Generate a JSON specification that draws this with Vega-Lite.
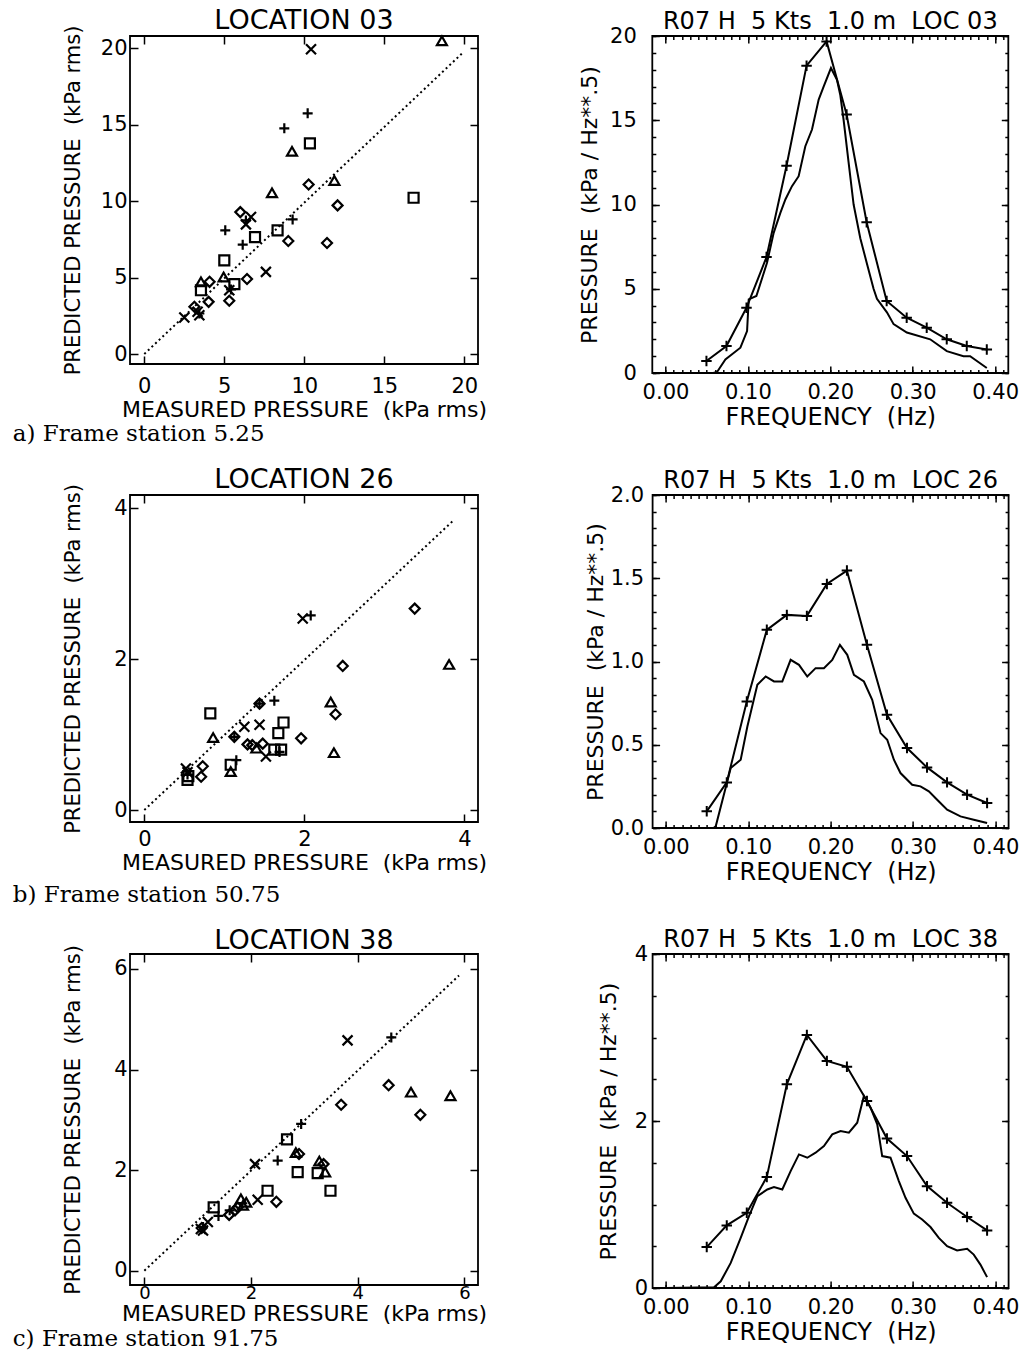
{
"$schema": "https://vega.github.io/schema/vega-lite/v6.json",
"padding": {"left": 12, "top": 6, "right": 0, "bottom": 0},
"background": "white",
"config": {
  "font": "DejaVu Sans",
  "view": {"stroke": "black", "strokeWidth": 1.8},
  "axis": {"domain": false, "grid": false, "tickColor": "black", "tickWidth": 1.5, "labelColor": "black", "titleColor": "black", "labelFont": "DejaVu Sans", "titleFont": "DejaVu Sans", "labelFontSize": 21, "titleFontSize": 22, "titleFontWeight": "normal", "labelOverlap": false},
  "title": {"font": "DejaVu Sans", "fontWeight": "normal", "color": "black"}
},
"datasets": {
  "sc1": [
    {"m":10.42,"p":19.93,"s":"x"},{"m":6.67,"p":8.96,"s":"x"},{"m":6.35,"p":8.48,"s":"x"},{"m":7.6,"p":5.37,"s":"x"},{"m":2.5,"p":2.39,"s":"x"},{"m":3.33,"p":2.76,"s":"x"},{"m":3.44,"p":2.54,"s":"x"},{"m":5.31,"p":4.17,"s":"x"},
    {"m":10.21,"p":15.74,"s":"plus"},{"m":8.75,"p":14.76,"s":"plus"},{"m":5.06,"p":8.09,"s":"plus"},{"m":6.15,"p":7.15,"s":"plus"},{"m":9.27,"p":8.8,"s":"plus"},{"m":3.44,"p":2.65,"s":"plus"},{"m":5.42,"p":4.22,"s":"plus"},{"m":6.35,"p":8.74,"s":"plus"},
    {"m":10.35,"p":13.78,"s":"square"},{"m":16.83,"p":10.22,"s":"square"},{"m":8.33,"p":8.09,"s":"square"},{"m":6.92,"p":7.65,"s":"square"},{"m":5.0,"p":6.13,"s":"square"},{"m":5.63,"p":4.57,"s":"square"},{"m":3.54,"p":4.17,"s":"square"},
    {"m":18.6,"p":20.48,"s":"triangle"},{"m":9.23,"p":13.26,"s":"triangle"},{"m":7.98,"p":10.54,"s":"triangle"},{"m":11.88,"p":11.35,"s":"triangle"},{"m":4.96,"p":5.04,"s":"triangle"},{"m":3.54,"p":4.72,"s":"triangle"},
    {"m":10.27,"p":11.09,"s":"diamond"},{"m":12.08,"p":9.72,"s":"diamond"},{"m":9.0,"p":7.39,"s":"diamond"},{"m":11.42,"p":7.26,"s":"diamond"},{"m":6.0,"p":9.28,"s":"diamond"},{"m":6.42,"p":4.91,"s":"diamond"},{"m":4.08,"p":4.72,"s":"diamond"},{"m":4.02,"p":3.41,"s":"diamond"},{"m":5.31,"p":3.48,"s":"diamond"},{"m":3.13,"p":3.09,"s":"diamond"}
  ],
  "sc2": [
    {"m":1.98,"p":2.54,"s":"x"},{"m":1.25,"p":1.105,"s":"x"},{"m":1.44,"p":1.13,"s":"x"},{"m":1.52,"p":0.71,"s":"x"},{"m":0.52,"p":0.55,"s":"x"},{"m":0.54,"p":0.5,"s":"x"},
    {"m":2.08,"p":2.58,"s":"plus"},{"m":1.625,"p":1.45,"s":"plus"},{"m":1.15,"p":0.66,"s":"plus"},{"m":1.44,"p":1.41,"s":"plus"},{"m":1.125,"p":0.97,"s":"plus"},{"m":1.69,"p":0.77,"s":"plus"},{"m":0.54,"p":0.47,"s":"plus"},
    {"m":0.825,"p":1.28,"s":"square"},{"m":1.74,"p":1.16,"s":"square"},{"m":1.675,"p":1.02,"s":"square"},{"m":1.625,"p":0.8,"s":"square"},{"m":1.71,"p":0.8,"s":"square"},{"m":1.08,"p":0.6,"s":"square"},{"m":0.54,"p":0.4,"s":"square"},{"m":0.55,"p":0.45,"s":"square"},
    {"m":3.81,"p":1.93,"s":"triangle"},{"m":2.33,"p":1.43,"s":"triangle"},{"m":2.37,"p":0.76,"s":"triangle"},{"m":0.86,"p":0.96,"s":"triangle"},{"m":1.4,"p":0.82,"s":"triangle"},{"m":1.08,"p":0.51,"s":"triangle"},
    {"m":3.38,"p":2.67,"s":"diamond"},{"m":2.48,"p":1.91,"s":"diamond"},{"m":2.39,"p":1.27,"s":"diamond"},{"m":1.96,"p":0.95,"s":"diamond"},{"m":1.48,"p":0.88,"s":"diamond"},{"m":1.29,"p":0.87,"s":"diamond"},{"m":0.73,"p":0.58,"s":"diamond"},{"m":0.71,"p":0.44,"s":"diamond"},{"m":1.44,"p":1.41,"s":"diamond"},{"m":1.125,"p":0.97,"s":"diamond"},{"m":1.35,"p":0.86,"s":"diamond"}
  ],
  "sc3": [
    {"m":3.81,"p":4.58,"s":"x"},{"m":2.075,"p":2.12,"s":"x"},{"m":2.125,"p":1.41,"s":"x"},{"m":1.19,"p":0.97,"s":"x"},{"m":1.06,"p":0.83,"s":"x"},{"m":1.1,"p":0.8,"s":"x"},
    {"m":4.63,"p":4.64,"s":"plus"},{"m":2.94,"p":2.92,"s":"plus"},{"m":2.5,"p":2.19,"s":"plus"},{"m":1.39,"p":1.09,"s":"plus"},{"m":1.6,"p":1.2,"s":"plus"},{"m":1.1,"p":0.87,"s":"plus"},
    {"m":2.675,"p":2.61,"s":"square"},{"m":2.875,"p":1.96,"s":"square"},{"m":3.25,"p":1.94,"s":"square"},{"m":3.49,"p":1.59,"s":"square"},{"m":2.31,"p":1.59,"s":"square"},{"m":1.3,"p":1.26,"s":"square"},
    {"m":5.0,"p":3.55,"s":"triangle"},{"m":5.74,"p":3.48,"s":"triangle"},{"m":3.28,"p":2.18,"s":"triangle"},{"m":3.39,"p":1.96,"s":"triangle"},{"m":2.84,"p":2.35,"s":"triangle"},{"m":1.91,"p":1.36,"s":"triangle"},{"m":1.81,"p":1.43,"s":"triangle"},{"m":1.85,"p":1.3,"s":"triangle"},
    {"m":4.58,"p":3.69,"s":"diamond"},{"m":5.175,"p":3.1,"s":"diamond"},{"m":3.69,"p":3.3,"s":"diamond"},{"m":2.9,"p":2.32,"s":"diamond"},{"m":3.36,"p":2.12,"s":"diamond"},{"m":2.475,"p":1.37,"s":"diamond"},{"m":1.59,"p":1.11,"s":"diamond"},{"m":1.75,"p":1.26,"s":"diamond"},{"m":1.075,"p":0.85,"s":"diamond"},{"m":1.7,"p":1.2,"s":"diamond"}
  ],
  "diag1": [{"m":0,"p":0},{"m":19.9,"p":19.7}],
  "diag2": [{"m":0,"p":0},{"m":3.875,"p":3.85}],
  "diag3": [{"m":0,"p":0},{"m":5.9,"p":5.87}],
  "meas1": [
    {"f":0.0,"v":0},{"f":0.058,"v":0},{"f":0.0626,"v":0.06},{"f":0.0727,"v":0.81},{"f":0.0909,"v":1.5},{"f":0.099,"v":2.49},{"f":0.101,"v":4.37},{"f":0.1103,"v":4.57},{"f":0.1232,"v":6.54},{"f":0.1313,"v":8.32},{"f":0.1394,"v":9.5},{"f":0.1455,"v":10.3},{"f":0.1535,"v":11.09},{"f":0.1616,"v":11.68},{"f":0.1697,"v":13.46},{"f":0.1778,"v":14.45},{"f":0.1859,"v":16.23},{"f":0.1919,"v":17.0},{"f":0.2008,"v":18.1},{"f":0.2081,"v":17.4},{"f":0.2121,"v":16.5},{"f":0.2162,"v":15.0},{"f":0.2222,"v":12.5},{"f":0.2283,"v":10.0},{"f":0.2364,"v":8.0},{"f":0.2444,"v":6.5},{"f":0.2525,"v":5.0},{"f":0.2566,"v":4.4},{"f":0.2687,"v":3.6},{"f":0.2768,"v":2.9},{"f":0.2929,"v":2.4},{"f":0.3212,"v":2.0},{"f":0.3414,"v":1.3},{"f":0.3616,"v":1.0},{"f":0.3697,"v":1.0},{"f":0.3899,"v":0.3}
  ],
  "pred1": [
    {"f":0.0497,"v":0.71},{"f":0.074,"v":1.6},{"f":0.0983,"v":3.87},{"f":0.1226,"v":6.88},{"f":0.1469,"v":12.3},{"f":0.1712,"v":18.24},{"f":0.1955,"v":19.68},{"f":0.2198,"v":15.34},{"f":0.2441,"v":8.95},{"f":0.2684,"v":4.27},{"f":0.2927,"v":3.28},{"f":0.317,"v":2.69},{"f":0.3413,"v":2.0},{"f":0.3656,"v":1.6},{"f":0.3899,"v":1.4}
  ],
  "meas2": [
    {"f":0.0,"v":0},{"f":0.058,"v":0},{"f":0.0606,"v":0.01},{"f":0.0788,"v":0.36},{"f":0.0909,"v":0.41},{"f":0.099,"v":0.61},{"f":0.1111,"v":0.86},{"f":0.1212,"v":0.91},{"f":0.1313,"v":0.88},{"f":0.1414,"v":0.88},{"f":0.1515,"v":1.01},{"f":0.1616,"v":0.98},{"f":0.1717,"v":0.91},{"f":0.1818,"v":0.96},{"f":0.1919,"v":0.96},{"f":0.202,"v":1.01},{"f":0.2113,"v":1.1},{"f":0.2202,"v":1.04},{"f":0.2283,"v":0.92},{"f":0.2404,"v":0.88},{"f":0.2505,"v":0.77},{"f":0.2606,"v":0.57},{"f":0.2687,"v":0.53},{"f":0.2768,"v":0.41},{"f":0.2848,"v":0.33},{"f":0.299,"v":0.26},{"f":0.3091,"v":0.25},{"f":0.3192,"v":0.22},{"f":0.3293,"v":0.17},{"f":0.3414,"v":0.11},{"f":0.3576,"v":0.07},{"f":0.3737,"v":0.05},{"f":0.3899,"v":0.03}
  ],
  "pred2": [
    {"f":0.0497,"v":0.1},{"f":0.074,"v":0.274},{"f":0.0983,"v":0.76},{"f":0.1226,"v":1.19},{"f":0.1469,"v":1.28},{"f":0.1712,"v":1.274},{"f":0.1955,"v":1.466},{"f":0.2198,"v":1.546},{"f":0.2441,"v":1.1},{"f":0.2684,"v":0.68},{"f":0.2927,"v":0.48},{"f":0.317,"v":0.364},{"f":0.3413,"v":0.274},{"f":0.3656,"v":0.2},{"f":0.3899,"v":0.15}
  ],
  "meas3": [
    {"f":0.0,"v":0},{"f":0.0586,"v":0.01},{"f":0.0667,"v":0.08},{"f":0.0788,"v":0.3},{"f":0.0909,"v":0.6},{"f":0.101,"v":0.86},{"f":0.1111,"v":1.1},{"f":0.1232,"v":1.18},{"f":0.1313,"v":1.21},{"f":0.1414,"v":1.18},{"f":0.1515,"v":1.4},{"f":0.1616,"v":1.6},{"f":0.1717,"v":1.56},{"f":0.1818,"v":1.62},{"f":0.1919,"v":1.7},{"f":0.202,"v":1.84},{"f":0.2121,"v":1.88},{"f":0.2222,"v":1.86},{"f":0.2323,"v":1.98},{"f":0.2404,"v":2.3},{"f":0.2485,"v":2.16},{"f":0.2566,"v":1.96},{"f":0.2626,"v":1.58},{"f":0.2727,"v":1.56},{"f":0.2828,"v":1.28},{"f":0.2909,"v":1.08},{"f":0.301,"v":0.89},{"f":0.3111,"v":0.82},{"f":0.3212,"v":0.73},{"f":0.3313,"v":0.6},{"f":0.3414,"v":0.5},{"f":0.3535,"v":0.45},{"f":0.3657,"v":0.47},{"f":0.3737,"v":0.4},{"f":0.3818,"v":0.28},{"f":0.3899,"v":0.13}
  ],
  "pred3": [
    {"f":0.0497,"v":0.49},{"f":0.074,"v":0.75},{"f":0.0983,"v":0.9},{"f":0.1226,"v":1.33},{"f":0.1469,"v":2.44},{"f":0.1712,"v":3.03},{"f":0.1955,"v":2.72},{"f":0.2198,"v":2.65},{"f":0.2441,"v":2.24},{"f":0.2684,"v":1.79},{"f":0.2927,"v":1.58},{"f":0.317,"v":1.22},{"f":0.3413,"v":1.02},{"f":0.3656,"v":0.85},{"f":0.3899,"v":0.69}
  ]
},
"spacing": 18,
"vconcat": [
 {
  "title": {"text": "a) Frame station 5.25", "orient": "bottom", "anchor": "start", "frame": "bounds", "dx": -49, "offset": -7, "font": "DejaVu Serif", "fontSize": 23, "fontWeight": "normal", "color": "black"},
  "spacing": 89.3,
  "hconcat": [
   {
    "width": 348, "height": 328,
    "title": {"text": "LOCATION 03", "frame": "group", "anchor": "middle", "fontSize": 27, "offset": -10},
    "layer": [
     {"data": {"name": "diag1"}, "mark": {"type": "line", "color": "black", "strokeWidth": 2, "strokeDash": [2, 3]},
      "encoding": {
       "x": {"field": "m", "type": "quantitative", "scale": {"domain": [-0.894, 20.856], "nice": false, "zero": false}, "axis": {"orient": "bottom", "values": [0,5,10,15,20], "tickSize": -8, "labelPadding": 19, "title": "MEASURED PRESSURE\u00a0\u00a0(kPa rms)", "titlePadding": 3}},
       "y": {"field": "p", "type": "quantitative", "scale": {"domain": [-0.654, 20.8], "nice": false, "zero": false}, "axis": {"orient": "left", "values": [0,5,10,15,20], "tickSize": -8, "labelPadding": 11, "title": "PREDICTED PRESSURE\u00a0\u00a0(kPa rms)", "titleFontSize": 21, "titlePadding": 16.7}}
      }},
     {"data": {"name": "sc1"}, "mark": {"type": "point", "filled": false, "color": "black", "strokeWidth": 2.2, "size": 100, "opacity": 1},
      "encoding": {
       "x": {"field": "m", "type": "quantitative", "axis": {"orient": "top", "values": [0,5,10,15,20], "tickSize": -8, "labels": false, "title": null}},
       "y": {"field": "p", "type": "quantitative", "axis": {"orient": "right", "values": [0,5,10,15,20], "tickSize": -8, "labels": false, "title": null}},
       "shape": {"field": "s", "type": "nominal", "legend": null, "scale": {"domain": ["plus","x","square","triangle","diamond"], "range": ["M-1,0L1,0M0,-1L0,1", "M-1,-1L1,1M-1,1L1,-1", "square", "triangle-up", "diamond"]}}
      }}
    ],
    "resolve": {"axis": {"x": "independent", "y": "independent"}}
   },
   {
    "width": 356, "height": 337,
    "title": {"text": "R07 H\u00a0\u00a05 Kts\u00a0\u00a01.0 m\u00a0\u00a0LOC 03", "frame": "group", "anchor": "middle", "fontSize": 24, "offset": -9.4},
    "layer": [
     {"data": {"name": "meas1"}, "mark": {"type": "line", "color": "black", "strokeWidth": 2},
      "encoding": {
       "x": {"field": "f", "type": "quantitative", "scale": {"domain": [-0.016, 0.416], "nice": false, "zero": false}, "axis": {"orient": "bottom", "values": [0,0.1,0.2,0.3,0.4], "format": ".2f", "tickSize": -7, "labelPadding": 15, "title": "FREQUENCY\u00a0\u00a0(Hz)", "titleFontSize": 24, "titlePadding": 3}},
       "y": {"field": "v", "type": "quantitative", "scale": {"domain": [0, 20], "nice": false, "zero": false}, "axis": {"orient": "left", "values": [0,5,10,15,20], "tickSize": -7, "labelPadding": 23, "title": "PRESSURE\u00a0\u00a0(kPa / Hz**.5)", "titlePadding": 8}}
      }},
     {"data": {"name": "pred1"}, "mark": {"type": "line", "color": "black", "strokeWidth": 2},
      "encoding": {
       "x": {"field": "f", "type": "quantitative", "axis": {"orient": "top", "values": [0,0.1,0.2,0.3,0.4], "tickSize": -7, "labels": false, "title": null}},
       "y": {"field": "v", "type": "quantitative", "axis": {"orient": "right", "values": [0,5,10,15,20], "tickSize": -7, "labels": false, "title": null}}
      }},
     {"data": {"name": "pred1"}, "mark": {"type": "point", "shape": "M-1,0L1,0M0,-1L0,1", "filled": false, "color": "black", "strokeWidth": 2, "size": 110, "opacity": 1},
      "encoding": {
       "x": {"field": "f", "type": "quantitative", "axis": {"orient": "bottom", "values": [0,0.01,0.02,0.03,0.04,0.05,0.06,0.07,0.08,0.09,0.1,0.11,0.12,0.13,0.14,0.15,0.16,0.17,0.18,0.19,0.2,0.21,0.22,0.23,0.24,0.25,0.26,0.27,0.28,0.29,0.3,0.31,0.32,0.33,0.34,0.35,0.36,0.37,0.38,0.39,0.4,0.41], "tickSize": -3.5, "labels": false, "title": null}},
       "y": {"field": "v", "type": "quantitative", "axis": {"orient": "left", "values": [0,1,2,3,4,5,6,7,8,9,10,11,12,13,14,15,16,17,18,19,20], "tickSize": -3.5, "labels": false, "title": null}}
      }},
     {"data": {"name": "pred1"}, "mark": {"type": "point", "opacity": 0},
      "encoding": {
       "x": {"field": "f", "type": "quantitative", "axis": {"orient": "top", "values": [0,0.01,0.02,0.03,0.04,0.05,0.06,0.07,0.08,0.09,0.1,0.11,0.12,0.13,0.14,0.15,0.16,0.17,0.18,0.19,0.2,0.21,0.22,0.23,0.24,0.25,0.26,0.27,0.28,0.29,0.3,0.31,0.32,0.33,0.34,0.35,0.36,0.37,0.38,0.39,0.4,0.41], "tickSize": -3.5, "labels": false, "title": null}},
       "y": {"field": "v", "type": "quantitative", "axis": {"orient": "right", "values": [0,1,2,3,4,5,6,7,8,9,10,11,12,13,14,15,16,17,18,19,20], "tickSize": -3.5, "labels": false, "title": null}}
      }}
    ],
    "resolve": {"axis": {"x": "independent", "y": "independent"}}
   }
  ]
 },
 {
  "title": {"text": "b) Frame station 50.75", "orient": "bottom", "anchor": "start", "frame": "bounds", "dx": -49, "offset": -1, "font": "DejaVu Serif", "fontSize": 23, "fontWeight": "normal", "color": "black"},
  "spacing": 94.6,
  "hconcat": [
   {
    "width": 348, "height": 327,
    "title": {"text": "LOCATION 26", "frame": "group", "anchor": "middle", "fontSize": 27, "offset": -10},
    "layer": [
     {"data": {"name": "diag2"}, "mark": {"type": "line", "color": "black", "strokeWidth": 2, "strokeDash": [2, 3]},
      "encoding": {
       "x": {"field": "m", "type": "quantitative", "scale": {"domain": [-0.179, 4.171], "nice": false, "zero": false}, "axis": {"orient": "bottom", "values": [0,2,4], "tickSize": -8, "labelPadding": 14.7, "title": "MEASURED PRESSURE\u00a0\u00a0(kPa rms)", "titlePadding": 3}},
       "y": {"field": "p", "type": "quantitative", "scale": {"domain": [-0.159, 4.176], "nice": false, "zero": false}, "axis": {"orient": "left", "values": [0,2,4], "tickSize": -8, "labelPadding": 11, "title": "PREDICTED PRESSURE\u00a0\u00a0(kPa rms)", "titleFontSize": 21, "titlePadding": 30}}
      }},
     {"data": {"name": "sc2"}, "mark": {"type": "point", "filled": false, "color": "black", "strokeWidth": 2.2, "size": 100, "opacity": 1},
      "encoding": {
       "x": {"field": "m", "type": "quantitative", "axis": {"orient": "top", "values": [0,2,4], "tickSize": -8, "labels": false, "title": null}},
       "y": {"field": "p", "type": "quantitative", "axis": {"orient": "right", "values": [0,2,4], "tickSize": -8, "labels": false, "title": null}},
       "shape": {"field": "s", "type": "nominal", "legend": null, "scale": {"domain": ["plus","x","square","triangle","diamond"], "range": ["M-1,0L1,0M0,-1L0,1", "M-1,-1L1,1M-1,1L1,-1", "square", "triangle-up", "diamond"]}}
      }}
    ],
    "resolve": {"axis": {"x": "independent", "y": "independent"}}
   },
   {
    "width": 356, "height": 333,
    "title": {"text": "R07 H\u00a0\u00a05 Kts\u00a0\u00a01.0 m\u00a0\u00a0LOC 26", "frame": "group", "anchor": "middle", "fontSize": 24, "offset": -9.4},
    "layer": [
     {"data": {"name": "meas2"}, "mark": {"type": "line", "color": "black", "strokeWidth": 2},
      "encoding": {
       "x": {"field": "f", "type": "quantitative", "scale": {"domain": [-0.016, 0.416], "nice": false, "zero": false}, "axis": {"orient": "bottom", "values": [0,0.1,0.2,0.3,0.4], "format": ".2f", "tickSize": -7, "labelPadding": 15, "title": "FREQUENCY\u00a0\u00a0(Hz)", "titleFontSize": 24, "titlePadding": 3}},
       "y": {"field": "v", "type": "quantitative", "scale": {"domain": [0, 2], "nice": false, "zero": false}, "axis": {"orient": "left", "values": [0,0.5,1,1.5,2], "format": ".1f", "tickSize": -7, "labelPadding": 16, "title": "PRESSURE\u00a0\u00a0(kPa / Hz**.5)", "titlePadding": 3}}
      }},
     {"data": {"name": "pred2"}, "mark": {"type": "line", "color": "black", "strokeWidth": 2},
      "encoding": {
       "x": {"field": "f", "type": "quantitative", "axis": {"orient": "top", "values": [0,0.1,0.2,0.3,0.4], "tickSize": -7, "labels": false, "title": null}},
       "y": {"field": "v", "type": "quantitative", "axis": {"orient": "right", "values": [0,0.5,1,1.5,2], "tickSize": -7, "labels": false, "title": null}}
      }},
     {"data": {"name": "pred2"}, "mark": {"type": "point", "shape": "M-1,0L1,0M0,-1L0,1", "filled": false, "color": "black", "strokeWidth": 2, "size": 110, "opacity": 1},
      "encoding": {
       "x": {"field": "f", "type": "quantitative", "axis": {"orient": "bottom", "values": [0,0.01,0.02,0.03,0.04,0.05,0.06,0.07,0.08,0.09,0.1,0.11,0.12,0.13,0.14,0.15,0.16,0.17,0.18,0.19,0.2,0.21,0.22,0.23,0.24,0.25,0.26,0.27,0.28,0.29,0.3,0.31,0.32,0.33,0.34,0.35,0.36,0.37,0.38,0.39,0.4,0.41], "tickSize": -3.5, "labels": false, "title": null}},
       "y": {"field": "v", "type": "quantitative", "axis": {"orient": "left", "values": [0,0.1,0.2,0.3,0.4,0.5,0.6,0.7,0.8,0.9,1,1.1,1.2,1.3,1.4,1.5,1.6,1.7,1.8,1.9,2], "tickSize": -3.5, "labels": false, "title": null}}
      }},
     {"data": {"name": "pred2"}, "mark": {"type": "point", "opacity": 0},
      "encoding": {
       "x": {"field": "f", "type": "quantitative", "axis": {"orient": "top", "values": [0,0.01,0.02,0.03,0.04,0.05,0.06,0.07,0.08,0.09,0.1,0.11,0.12,0.13,0.14,0.15,0.16,0.17,0.18,0.19,0.2,0.21,0.22,0.23,0.24,0.25,0.26,0.27,0.28,0.29,0.3,0.31,0.32,0.33,0.34,0.35,0.36,0.37,0.38,0.39,0.4,0.41], "tickSize": -3.5, "labels": false, "title": null}},
       "y": {"field": "v", "type": "quantitative", "axis": {"orient": "right", "values": [0,0.1,0.2,0.3,0.4,0.5,0.6,0.7,0.8,0.9,1,1.1,1.2,1.3,1.4,1.5,1.6,1.7,1.8,1.9,2], "tickSize": -3.5, "labels": false, "title": null}}
      }}
    ],
    "resolve": {"axis": {"x": "independent", "y": "independent"}}
   }
  ]
 },
 {
  "title": {"text": "c) Frame station 91.75", "orient": "bottom", "anchor": "start", "frame": "bounds", "dx": -49, "offset": -17, "font": "DejaVu Serif", "fontSize": 23, "fontWeight": "normal", "color": "black"},
  "spacing": 107.6,
  "hconcat": [
   {
    "width": 348, "height": 331,
    "title": {"text": "LOCATION 38", "frame": "group", "anchor": "middle", "fontSize": 27, "offset": -10},
    "layer": [
     {"data": {"name": "diag3"}, "mark": {"type": "line", "color": "black", "strokeWidth": 2, "strokeDash": [2, 3]},
      "encoding": {
       "x": {"field": "m", "type": "quantitative", "scale": {"domain": [-0.269, 6.256], "nice": false, "zero": false}, "axis": {"orient": "bottom", "values": [0,2,4,6], "tickSize": -8, "labelPadding": 7.5, "labelFontSize": 18, "title": "MEASURED PRESSURE\u00a0\u00a0(kPa rms)", "titlePadding": 1}},
       "y": {"field": "p", "type": "quantitative", "scale": {"domain": [-0.284, 6.298], "nice": false, "zero": false}, "axis": {"orient": "left", "values": [0,2,4,6], "tickSize": -8, "labelPadding": 11, "title": "PREDICTED PRESSURE\u00a0\u00a0(kPa rms)", "titleFontSize": 21, "titlePadding": 30}}
      }},
     {"data": {"name": "sc3"}, "mark": {"type": "point", "filled": false, "color": "black", "strokeWidth": 2.2, "size": 100, "opacity": 1},
      "encoding": {
       "x": {"field": "m", "type": "quantitative", "axis": {"orient": "top", "values": [0,2,4,6], "tickSize": -8, "labels": false, "title": null}},
       "y": {"field": "p", "type": "quantitative", "axis": {"orient": "right", "values": [0,2,4,6], "tickSize": -8, "labels": false, "title": null}},
       "shape": {"field": "s", "type": "nominal", "legend": null, "scale": {"domain": ["plus","x","square","triangle","diamond"], "range": ["M-1,0L1,0M0,-1L0,1", "M-1,-1L1,1M-1,1L1,-1", "square", "triangle-up", "diamond"]}}
      }}
    ],
    "resolve": {"axis": {"x": "independent", "y": "independent"}}
   },
   {
    "width": 356, "height": 334,
    "title": {"text": "R07 H\u00a0\u00a05 Kts\u00a0\u00a01.0 m\u00a0\u00a0LOC 38", "frame": "group", "anchor": "middle", "fontSize": 24, "offset": -9.4},
    "layer": [
     {"data": {"name": "meas3"}, "mark": {"type": "line", "color": "black", "strokeWidth": 2},
      "encoding": {
       "x": {"field": "f", "type": "quantitative", "scale": {"domain": [-0.016, 0.416], "nice": false, "zero": false}, "axis": {"orient": "bottom", "values": [0,0.1,0.2,0.3,0.4], "format": ".2f", "tickSize": -7, "labelPadding": 15, "title": "FREQUENCY\u00a0\u00a0(Hz)", "titleFontSize": 24, "titlePadding": 3}},
       "y": {"field": "v", "type": "quantitative", "scale": {"domain": [0, 4], "nice": false, "zero": false}, "axis": {"orient": "left", "values": [0,2,4], "tickSize": -7, "labelPadding": 12, "title": "PRESSURE\u00a0\u00a0(kPa / Hz**.5)", "titlePadding": 14}}
      }},
     {"data": {"name": "pred3"}, "mark": {"type": "line", "color": "black", "strokeWidth": 2},
      "encoding": {
       "x": {"field": "f", "type": "quantitative", "axis": {"orient": "top", "values": [0,0.1,0.2,0.3,0.4], "tickSize": -7, "labels": false, "title": null}},
       "y": {"field": "v", "type": "quantitative", "axis": {"orient": "right", "values": [0,2,4], "tickSize": -7, "labels": false, "title": null}}
      }},
     {"data": {"name": "pred3"}, "mark": {"type": "point", "shape": "M-1,0L1,0M0,-1L0,1", "filled": false, "color": "black", "strokeWidth": 2, "size": 110, "opacity": 1},
      "encoding": {
       "x": {"field": "f", "type": "quantitative", "axis": {"orient": "bottom", "values": [0,0.01,0.02,0.03,0.04,0.05,0.06,0.07,0.08,0.09,0.1,0.11,0.12,0.13,0.14,0.15,0.16,0.17,0.18,0.19,0.2,0.21,0.22,0.23,0.24,0.25,0.26,0.27,0.28,0.29,0.3,0.31,0.32,0.33,0.34,0.35,0.36,0.37,0.38,0.39,0.4,0.41], "tickSize": -3.5, "labels": false, "title": null}},
       "y": {"field": "v", "type": "quantitative", "axis": {"orient": "left", "values": [0,0.5,1,1.5,2,2.5,3,3.5,4], "tickSize": -3.5, "labels": false, "title": null}}
      }},
     {"data": {"name": "pred3"}, "mark": {"type": "point", "opacity": 0},
      "encoding": {
       "x": {"field": "f", "type": "quantitative", "axis": {"orient": "top", "values": [0,0.01,0.02,0.03,0.04,0.05,0.06,0.07,0.08,0.09,0.1,0.11,0.12,0.13,0.14,0.15,0.16,0.17,0.18,0.19,0.2,0.21,0.22,0.23,0.24,0.25,0.26,0.27,0.28,0.29,0.3,0.31,0.32,0.33,0.34,0.35,0.36,0.37,0.38,0.39,0.4,0.41], "tickSize": -3.5, "labels": false, "title": null}},
       "y": {"field": "v", "type": "quantitative", "axis": {"orient": "right", "values": [0,0.5,1,1.5,2,2.5,3,3.5,4], "tickSize": -3.5, "labels": false, "title": null}}
      }}
    ],
    "resolve": {"axis": {"x": "independent", "y": "independent"}}
   }
  ]
 }
]
}
